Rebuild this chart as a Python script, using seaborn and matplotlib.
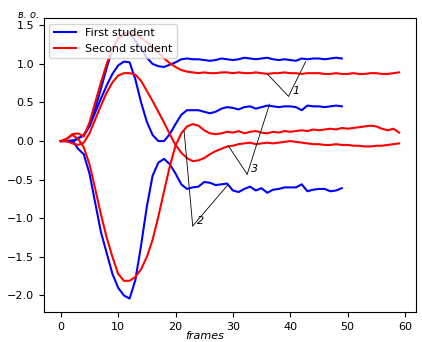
import numpy as np
import pandas as pd
import matplotlib
matplotlib.use("Agg")
import matplotlib.pyplot as plt
import seaborn as sns

# first student: three coordinate curves, 50 frames
b_upper = [0.00, 0.00, -0.01, 0.03, 0.08, 0.20, 0.42, 0.68, 0.95, 1.18,
           1.33, 1.40, 1.40, 1.30, 1.20, 1.08, 1.00, 0.97, 0.96, 0.99,
           1.02, 1.06, 1.07, 1.06, 1.06, 1.05, 1.04, 1.05, 1.07, 1.06,
           1.05, 1.06, 1.08, 1.07, 1.06, 1.07, 1.08, 1.06, 1.05, 1.06,
           1.05, 1.04, 1.07, 1.06, 1.07, 1.07, 1.06, 1.07, 1.08, 1.07]
b_mid = [0.00, 0.00, 0.00, 0.04, 0.07, 0.19, 0.37, 0.55, 0.72, 0.87,
         0.98, 1.03, 1.02, 0.80, 0.50, 0.25, 0.08, 0.00, 0.00, 0.09,
         0.22, 0.34, 0.40, 0.40, 0.40, 0.38, 0.36, 0.38, 0.42, 0.44,
         0.43, 0.41, 0.44, 0.45, 0.42, 0.44, 0.46, 0.45, 0.44, 0.45,
         0.45, 0.44, 0.40, 0.46, 0.45, 0.45, 0.44, 0.45, 0.46, 0.45]
b_low = [0.00, 0.00, 0.01, -0.10, -0.17, -0.42, -0.80, -1.18, -1.45, -1.72,
         -1.90, -2.00, -2.04, -1.80, -1.35, -0.85, -0.45, -0.28, -0.23, -0.30,
         -0.42, -0.56, -0.62, -0.60, -0.59, -0.53, -0.54, -0.57, -0.56, -0.55,
         -0.64, -0.66, -0.62, -0.59, -0.64, -0.61, -0.67, -0.63, -0.62, -0.60,
         -0.60, -0.60, -0.56, -0.65, -0.63, -0.62, -0.62, -0.65, -0.64, -0.61]

# second student: three coordinate curves, 60 frames
r_upper = [0.00, 0.02, 0.09, 0.10, 0.06, 0.24, 0.50, 0.76, 1.00, 1.20,
           1.32, 1.38, 1.42, 1.38, 1.34, 1.28, 1.22, 1.15, 1.07, 1.01,
           0.96, 0.92, 0.90, 0.89, 0.88, 0.89, 0.88, 0.88, 0.89, 0.89,
           0.88, 0.89, 0.88, 0.88, 0.89, 0.88, 0.87, 0.88, 0.88, 0.89,
           0.88, 0.88, 0.87, 0.88, 0.88, 0.88, 0.87, 0.87, 0.88, 0.87,
           0.87, 0.88, 0.87, 0.87, 0.88, 0.88, 0.87, 0.87, 0.88, 0.89]
r_mid = [0.00, 0.00, -0.03, -0.05, -0.02, 0.10, 0.28, 0.46, 0.63, 0.76,
         0.85, 0.88, 0.88, 0.86, 0.78, 0.65, 0.52, 0.38, 0.24, 0.09,
         -0.05, -0.15, -0.22, -0.26, -0.25, -0.22, -0.17, -0.13, -0.10, -0.07,
         -0.06, -0.04, -0.03, -0.02, -0.04, -0.03, -0.02, -0.03, -0.02, -0.01,
         0.00, -0.01, -0.02, -0.03, -0.04, -0.04, -0.05, -0.05, -0.04, -0.05,
         -0.05, -0.06, -0.06, -0.07, -0.07, -0.06, -0.06, -0.05, -0.04, -0.03]
r_low = [0.00, 0.03, 0.08, 0.03, -0.08, -0.30, -0.62, -0.95, -1.25, -1.50,
         -1.72, -1.81, -1.81, -1.76, -1.66, -1.50, -1.28, -0.98, -0.65, -0.33,
         -0.06, 0.10, 0.19, 0.22, 0.20, 0.14, 0.10, 0.09, 0.10, 0.12,
         0.11, 0.13, 0.10, 0.12, 0.13, 0.11, 0.10, 0.12, 0.11, 0.13,
         0.12, 0.13, 0.14, 0.13, 0.15, 0.14, 0.15, 0.16, 0.15, 0.17,
         0.16, 0.17, 0.18, 0.19, 0.20, 0.19, 0.16, 0.14, 0.16, 0.11]

students = ["First student", "Second student"]

# annotation label, text point, line targets (data coords)
notes = [("1", (39.7, 0.58), [(36.0, 0.87), (42.7, 1.03)]),
         ("2", (23.0, -1.10), [(21.5, 0.13), (29.1, -0.57)]),
         ("3", (32.5, -0.43), [(29.2, -0.06), (36.4, 0.48)])]

rows = []
for student, curves in [(students[0], [b_upper, b_mid, b_low]),
                        (students[1], [r_upper, r_mid, r_low])]:
    for k, vals in enumerate(curves):
        for f, v in enumerate(vals):
            rows.append((f, v, student, f"{student}_{k}"))
df = pd.DataFrame(rows, columns=["frame", "value", "student", "curve"])

fig, ax = plt.subplots(figsize=(4.22, 3.42), dpi=100)
fig.subplots_adjust(left=0.104, right=0.986, bottom=0.088, top=0.947)

sns.lineplot(data=df, x="frame", y="value", hue="student", units="curve",
             estimator=None, palette={students[0]: "blue", students[1]: "red"},
             linewidth=1.5, ax=ax)

for label, apex, targets in notes:
    for t in targets:
        ax.annotate("", xy=t, xytext=apex,
                    arrowprops=dict(arrowstyle="-", color="black", lw=0.6,
                                    shrinkA=0, shrinkB=0))
    ax.text(apex[0] + 0.7, apex[1], label, fontsize=8, style="italic",
            ha="left", va="bottom")

ax.tick_params(labelsize=8)
ax.set_xticks([0, 10, 20, 30, 40, 50, 60])
ax.set_xlabel("frames", fontsize=8, style="italic", va="center")
ax.xaxis.set_label_coords(0.433, -0.082)
ax.set_ylabel("в. о.", fontsize=7, style="italic", rotation=0,
              ha="center", va="center")
ax.yaxis.set_label_coords(-0.04, 1.012)
ax.legend(loc="upper left", fontsize=8)

plt.savefig("out.png", dpi=100)
plt.close()
